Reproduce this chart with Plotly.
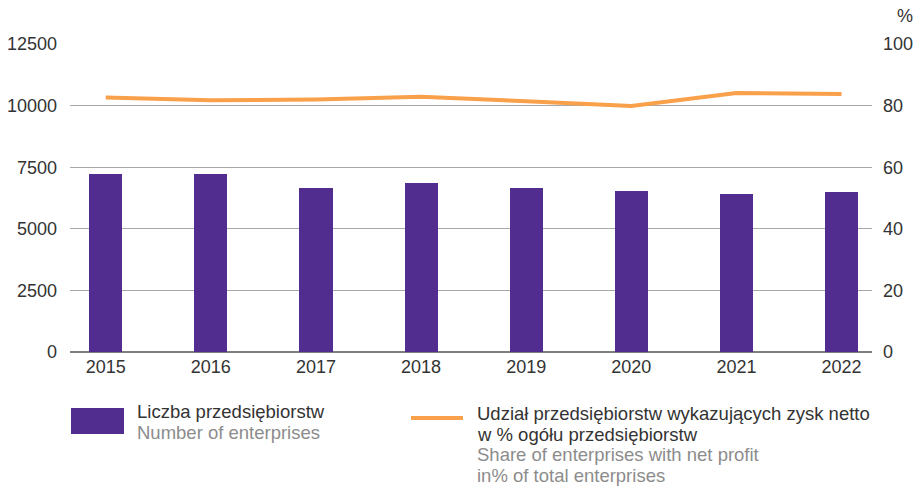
import plotly.graph_objects as go

years = ["2015", "2016", "2017", "2018", "2019", "2020", "2021", "2022"]
enterprises = [7210, 7215, 6670, 6870, 6650, 6530, 6400, 6480]
profit_share = [82.6, 81.7, 82.0, 82.9, 81.4, 79.9, 84.1, 83.8]
left_ticks = [0, 2500, 5000, 7500, 10000, 12500]
right_ticks = [0, 20, 40, 60, 80, 100]

PURPLE = "#512D8F"
ORANGE = "#F9A04A"
DARK = "#333333"
GREY = "#8C8C8C"
FONT = "Liberation Sans, Arial, sans-serif"

W, H = 919, 486
L, R, T, B = 70, 872, 44, 352


def px(x):
    return (x - L) / (R - L)


def py(y):
    return (B - y) / (B - T)


fig = go.Figure()
fig.add_trace(go.Bar(x=years, y=enterprises, marker=dict(color=PURPLE, line=dict(width=0)),
                     width=0.315, yaxis="y", name="Liczba przedsiębiorstw"))
fig.add_trace(go.Scatter(x=years, y=profit_share, mode="lines",
                         line=dict(color=ORANGE, width=4), yaxis="y2",
                         name="Udział przedsiębiorstw"))

fig.update_layout(
    width=W, height=H,
    margin=dict(l=L, r=W - R, t=T, b=H - B, pad=0, autoexpand=False),
    plot_bgcolor="white", paper_bgcolor="white",
    showlegend=False,
    font=dict(family=FONT, size=18, color=DARK),
    xaxis=dict(type="category", range=[-0.34, 7.29], showgrid=False, automargin=False,
               showline=False, ticks="", tickfont=dict(size=18, color=DARK),
               ticklabelstandoff=2),
    yaxis=dict(range=[0, 12500], tickvals=left_ticks, tickformat="d", showgrid=True,
               automargin=False,
               gridcolor="#A8A8A8", gridwidth=1, zeroline=True,
               zerolinecolor="#7F7F7F", zerolinewidth=1.5, showline=False,
               ticks="", ticklabelstandoff=12, tickfont=dict(size=18, color=DARK)),
    yaxis2=dict(range=[0, 100], tickvals=right_ticks, overlaying="y", side="right",
                automargin=False,
                showgrid=False, zeroline=False, showline=False, ticks="",
                ticklabelstandoff=10, tickfont=dict(size=18, color=DARK)),
    bargap=0,
)

fig.add_annotation(text="%", xref="paper", yref="paper", x=px(905), y=py(16),
                   xanchor="center", yanchor="middle", showarrow=False,
                   font=dict(size=18, color=DARK))

# Legend
fig.add_shape(type="rect", xref="paper", yref="paper",
              x0=px(71), x1=px(124), y0=py(434), y1=py(408),
              fillcolor=PURPLE, line=dict(width=0))
fig.add_shape(type="line", xref="paper", yref="paper",
              x0=px(411), x1=px(463), y0=py(418), y1=py(418),
              line=dict(color=ORANGE, width=4))

legend_lines = [
    ("Liczba przedsiębiorstw", 135, 411, DARK),
    ("Number of enterprises", 135, 432, GREY),
    ("Udział przedsiębiorstw wykazujących zysk netto", 475, 413, DARK),
    ("w % ogółu przedsiębiorstw", 475, 434, DARK),
    ("Share of enterprises with net profit", 475, 455, GREY),
    ("in% of total enterprises", 475, 475, GREY),
]
for txt, x, y, col in legend_lines:
    fig.add_annotation(text=txt, xref="paper", yref="paper", x=px(x), y=py(y),
                       xanchor="left", yanchor="middle", showarrow=False,
                       font=dict(size=18.5, color=col))

fig.write_html("out.html", config={"displayModeBar": False},
               post_script="document.body.style.margin='0';")
